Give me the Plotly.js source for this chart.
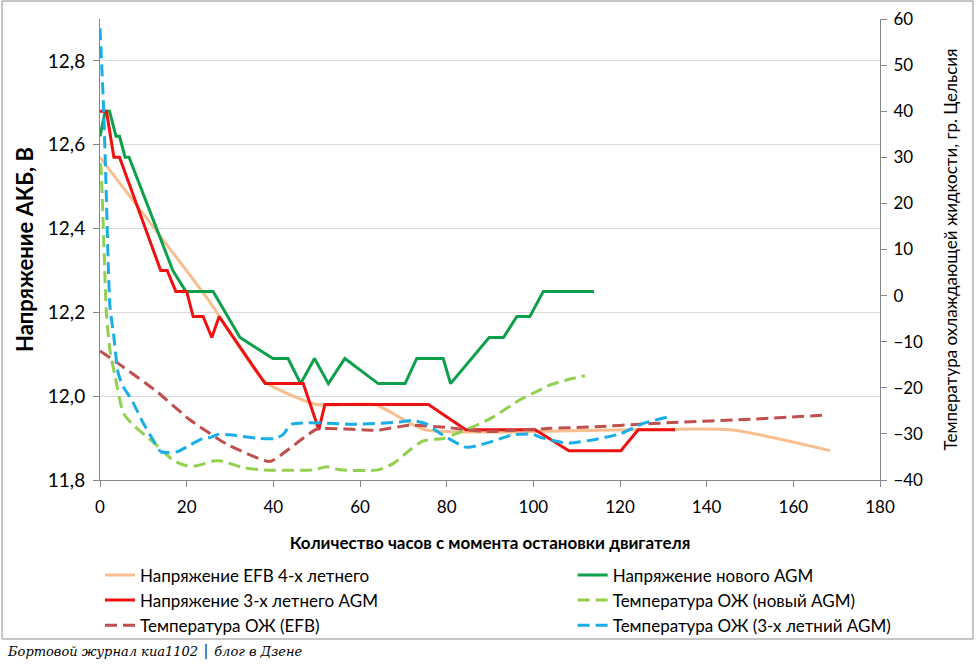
<!DOCTYPE html>
<html>
<head>
<meta charset="utf-8">
<script src="https://cdn.plot.ly/plotly-3.0.1.min.js"></script>
<style>html,body{margin:0;padding:0;background:#fff;}#chart{width:977px;height:666px;}</style>
</head>
<body>
<div id="chart"></div>
<script>
// EFB 4-year voltage
const efbHours = [0, 25, 38, 50, 63.5, 75, 145.5, 168.5];
const efbVolt  = [12.57, 12.23, 12.035, 11.98, 11.98, 11.92, 11.92, 11.87];
// New AGM voltage
const newHours = [0, 1.2, 2.2, 3.7, 4.5, 5.8, 6.7, 16.8, 19.8, 26.1, 32.3, 39.9, 43.4, 46.3, 49.5, 52.7, 56.5, 64.2, 70.4, 73.1, 79.2, 80.9, 89.8, 93.1, 96.2, 99.2, 102.3, 114];
const newVolt  = [12.62, 12.68, 12.68, 12.62, 12.62, 12.57, 12.57, 12.30, 12.25, 12.25, 12.14, 12.09, 12.09, 12.03, 12.09, 12.03, 12.09, 12.03, 12.03, 12.09, 12.09, 12.03, 12.14, 12.14, 12.19, 12.19, 12.25, 12.25];
// 3-year AGM voltage
const oldHours = [0, 1.5, 3.2, 4.5, 14.0, 15.5, 17.5, 20.0, 21.5, 23.8, 25.8, 27.5, 38.1, 46.9, 50.5, 51.9, 75.8, 84.4, 100.4, 108.2, 120.2, 124.2, 132.7];
const oldVolt  = [12.68, 12.68, 12.57, 12.57, 12.30, 12.30, 12.25, 12.25, 12.19, 12.19, 12.14, 12.19, 12.03, 12.03, 11.92, 11.98, 11.98, 11.92, 11.92, 11.87, 11.87, 11.92, 11.92];
// Coolant temperature, new AGM run
const tNewHours = [0, 0.2, 1.5, 2.3, 3.5, 5.4, 7.7, 10.8, 13.8, 16.9, 20, 22.3, 26.1, 28, 33.1, 37.7, 49.3, 52.3, 55.4, 64.2, 67.7, 71.5, 74.6, 79.2, 81.5, 86.2, 90.8, 96.9, 100.8, 103.8, 107.7, 111.9];
const tNewTemp  = [28.7, 27.9, -4.2, -11.8, -17.6, -25.5, -28.1, -30.6, -33.1, -35.7, -36.9, -36.9, -35.9, -35.9, -37.3, -37.8, -37.8, -37.1, -37.8, -37.8, -36.4, -33.5, -31.5, -31.0, -30.2, -28.4, -26.3, -22.6, -20.8, -19.4, -18.3, -17.4];
// Coolant temperature, EFB run
const tEfbHours = [0, 4.2, 13.1, 20.8, 29.2, 39.2, 50, 64, 71.5, 80, 89, 96, 104, 115.4, 124.6, 130.8, 150.8, 167.7];
const tEfbTemp  = [-12.0, -14.7, -20.8, -27.0, -32.2, -36.0, -29.0, -29.2, -28.1, -28.6, -29.5, -29.2, -28.8, -28.4, -27.9, -27.6, -26.8, -25.9];
// Coolant temperature, 3-year AGM run
const tOldHours = [0, 0.8, 1.3, 2.3, 3.1, 4.2, 5.4, 7.3, 10.0, 12.7, 14.1, 17.7, 20.8, 24.2, 25.4, 27.2, 30, 36.9, 40.4, 42.3, 44.2, 60, 69.2, 72.2, 75.4, 78.5, 84.6, 89.2, 95.4, 100, 101.5, 108.1, 120, 125.4, 131.2];
const tOldTemp  = [58.0, 41.3, 26.9, -2.4, -8.1, -16.8, -19.8, -22.6, -27.7, -32.0, -33.9, -33.9, -32.4, -30.8, -30.8, -30.1, -30.2, -31.0, -31.0, -30.1, -27.9, -27.9, -27.4, -27.1, -27.9, -29.9, -32.9, -32.0, -30.2, -30.1, -30.7, -32.0, -30.0, -27.7, -26.3];

const xTicks = [0, 20, 40, 60, 80, 100, 120, 140, 160, 180];
const names = ['Напряжение EFB 4-х летнего', 'Напряжение нового AGM', 'Напряжение 3-х летнего AGM',
               'Температура ОЖ (новый AGM)', 'Температура ОЖ (EFB)', 'Температура ОЖ (3-х летний AGM)'];

const FONT = 'Lato, "Liberation Sans", Arial, sans-serif';
const DASH = '12px,6px';

const data = [
  {x: efbHours, y: efbVolt, name: names[0], mode: 'lines', line: {color: '#F9BE8E', width: 3, shape: 'spline', smoothing: 0.5}, legend: 'legend', legendgroup: 'a'},
  {x: newHours, y: newVolt, name: names[1], mode: 'lines', line: {color: '#0DA04B', width: 3}, legend: 'legend2', legendgroup: 'b'},
  {x: oldHours, y: oldVolt, name: names[2], mode: 'lines', line: {color: '#EE1111', width: 3}, legend: 'legend', legendgroup: 'c'},
  {x: tNewHours, y: tNewTemp, name: names[3], yaxis: 'y2', mode: 'lines', line: {color: '#92D050', width: 3, dash: DASH, shape: 'spline', smoothing: 0.6}, legend: 'legend2', legendgroup: 'd'},
  {x: tEfbHours, y: tEfbTemp, name: names[4], yaxis: 'y2', mode: 'lines', line: {color: '#C0504D', width: 3, dash: DASH, shape: 'spline', smoothing: 0.4}, legend: 'legend', legendgroup: 'e'},
  {x: tOldHours, y: tOldTemp, name: names[5], yaxis: 'y2', mode: 'lines', line: {color: '#1AAEE8', width: 3, dash: DASH, shape: 'spline', smoothing: 0.6}, legend: 'legend2', legendgroup: 'f'}
];

const legendCommon = {orientation: 'v', y: -0.168, xanchor: 'left', yanchor: 'top', traceorder: 'grouped',
  tracegroupgap: 0, font: {family: FONT, size: 17, color: '#000'}, bgcolor: 'rgba(0,0,0,0)'};

const layout = {
  width: 977, height: 666,
  margin: {l: 100, r: 97, t: 19, b: 186},
  paper_bgcolor: '#ffffff', plot_bgcolor: '#ffffff',
  separators: ', ',
  font: {family: FONT, color: '#000', size: 15},
  showlegend: true,
  legend: Object.assign({x: 0.0}, legendCommon),
  legend2: Object.assign({x: 0.606}, legendCommon),
  xaxis: {range: [0, 180], tickvals: xTicks, ticktext: xTicks.map(String), showgrid: false, zeroline: false,
          showline: true, linecolor: '#868686', linewidth: 1, ticks: 'outside', ticklen: 6, tickcolor: '#868686',
          ticklabelstandoff: 6,
          tickfont: {family: FONT, size: 17},
          title: {text: 'Количество часов с момента остановки двигателя', font: {family: FONT, size: 17, color: '#000', weight: 'bold'}, standoff: 20}},
  yaxis: {range: [11.8, 12.9], tickvals: [11.8, 12.0, 12.2, 12.4, 12.6, 12.8], tickformat: '.1f',
          showgrid: true, gridcolor: '#D9D9D9', gridwidth: 1, zeroline: false,
          showline: true, linecolor: '#868686', linewidth: 1, ticks: 'outside', ticklen: 6, tickcolor: '#868686',
          ticklabelstandoff: 4,
          tickfont: {family: FONT, size: 19},
          title: {text: 'Напряжение АКБ, В', font: {family: FONT, size: 22, color: '#000', weight: 'bold'}, standoff: 8}},
  yaxis2: {range: [-40, 60], dtick: 10, tick0: 0, overlaying: 'y', side: 'right', showgrid: false, zeroline: false,
           showline: true, linecolor: '#868686', linewidth: 1, ticks: 'outside', ticklen: 6, tickcolor: '#868686',
           ticklabelstandoff: 3,
           tickfont: {family: FONT, size: 17},
           title: {text: 'Температура охлаждающей жидкости, гр. Цельсия', font: {family: FONT, size: 17, color: '#000'}, standoff: 22}},
  shapes: [
    {type: 'rect', xref: 'paper', yref: 'paper', x0: -0.1256, x1: 1.1192, y0: -0.3449, y1: 1.039,
     line: {color: '#8C8C8C', width: 1}, fillcolor: 'rgba(0,0,0,0)', layer: 'below'}
  ],
  annotations: [
    {xref: 'paper', yref: 'paper', x: -0.1218, y: -0.371, xanchor: 'left', yanchor: 'middle', showarrow: false,
     text: '<i>Бортовой журнал киа1102 │ блог в Дзене</i>', font: {family: '"DejaVu Serif", serif', size: 13, color: '#000'}}
  ]
};

Plotly.newPlot('chart', data, layout, {displayModeBar: false, staticPlot: true});
</script>
</body>
</html>
